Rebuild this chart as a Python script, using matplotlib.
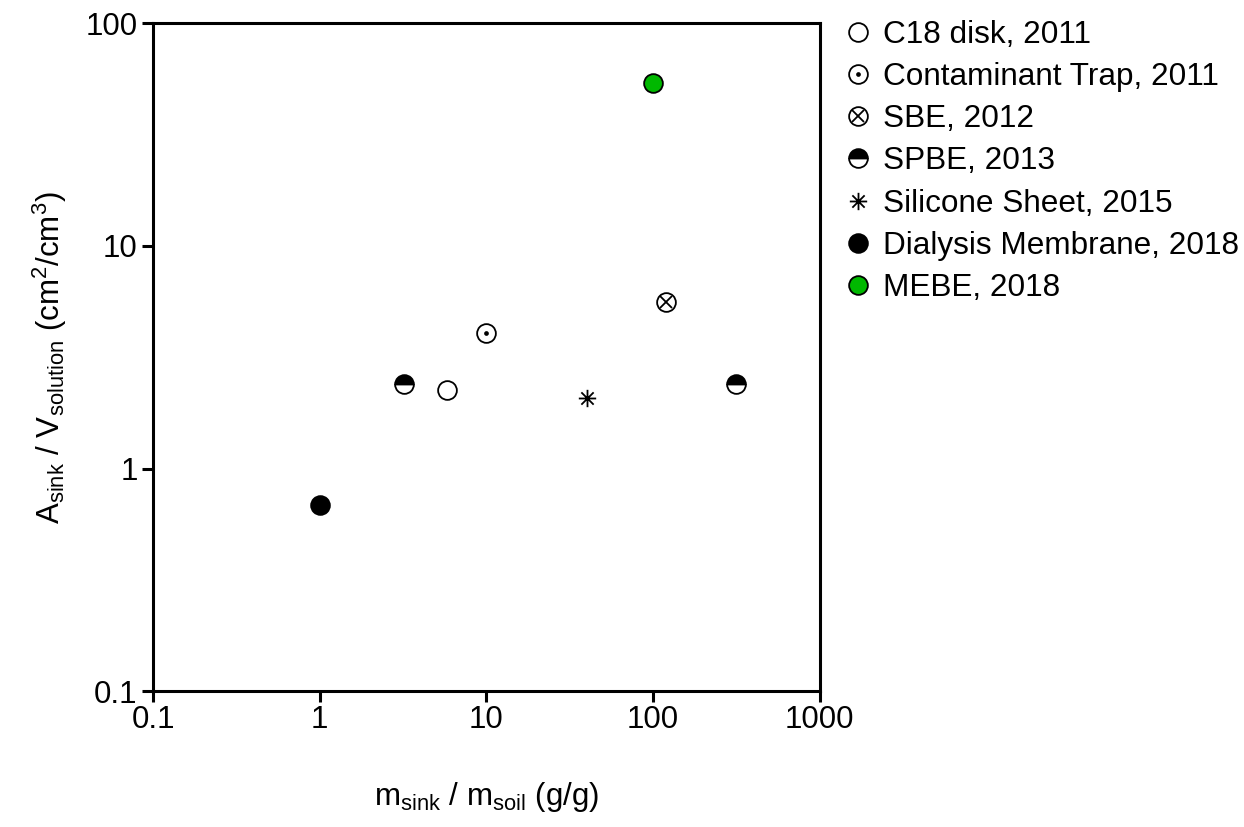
import numpy as np
import matplotlib
matplotlib.use('Agg')
import matplotlib.pyplot as plt
from matplotlib.path import Path
from matplotlib.legend_handler import HandlerTuple

plt.rcParams['font.family'] = ['Liberation Sans', 'DejaVu Sans']
plt.rcParams['mathtext.fontset'] = 'custom'
plt.rcParams['mathtext.rm'] = 'Liberation Sans'
plt.rcParams['mathtext.it'] = 'Liberation Sans:italic'
plt.rcParams['mathtext.default'] = 'regular'

# sink mass / soil mass vs. sink area / solution volume
c18_x, c18_y = [5.8], [2.25]
trap_x, trap_y = [10.0], [4.05]
sbe_x, sbe_y = [120.0], [5.6]
spbe_x, spbe_y = [3.2, 316.0], [2.4, 2.4]
silicone_x, silicone_y = [40.0], [2.08]
dialysis_x, dialysis_y = [1.0], [0.69]
mebe_x, mebe_y = [100.0], [54.0]

labels = ['C18 disk, 2011', 'Contaminant Trap, 2011', 'SBE, 2012', 'SPBE, 2013',
          'Silicone Sheet, 2015', 'Dialysis Membrane, 2018', 'MEBE, 2018']
xticks = [0.1, 1, 10, 100, 1000]
yticks = [0.1, 1, 10, 100]
tick_labels_x = ['0.1', '1', '10', '100', '1000']
tick_labels_y = ['0.1', '1', '10', '100']

# 8-spoke asterisk
r = np.sqrt(0.5)
star_path = Path([(0, -1), (0, 1), (-1, 0), (1, 0), (-r, -r), (r, r), (-r, r), (r, -r)],
                 [Path.MOVETO, Path.LINETO] * 4)

ms = 13.5
mew = 1.3
fs = 22.5

fig = plt.figure(figsize=(12.44, 8.27), dpi=100)
ax = fig.add_axes([0.123, 0.164, 0.536, 0.808])

def circ(x, y, fc='white', **kw):
    return ax.plot(x, y, ls='none', marker='o', ms=ms, mfc=fc, mec='black', mew=mew, **kw)[0]

h_c18 = circ(c18_x, c18_y)

h_trap_o = circ(trap_x, trap_y)
h_trap_d = ax.plot(trap_x, trap_y, ls='none', marker='o', ms=3.4, mfc='black', mec='black', mew=0)[0]

h_sbe_o = circ(sbe_x, sbe_y)
h_sbe_x = ax.plot(sbe_x, sbe_y, ls='none', marker='x', ms=ms / np.sqrt(2) - 0.3, mec='black', mew=mew)[0]

h_spbe = ax.plot(spbe_x, spbe_y, ls='none', marker='o', ms=ms, fillstyle='top', mfc='black',
                 markerfacecoloralt='white', mec='black', mew=mew)[0]

h_sil = ax.plot(silicone_x, silicone_y, ls='none', marker=star_path, ms=ms - 1, mfc='none',
                mec='black', mew=mew)[0]

h_dia = circ(dialysis_x, dialysis_y, fc='black')
h_mebe = circ(mebe_x, mebe_y, fc='#00b800')

ax.set_xscale('log')
ax.set_yscale('log')
ax.set_xlim(0.1, 1000)
ax.set_ylim(0.1, 100)
ax.set_xticks(xticks)
ax.set_xticklabels(tick_labels_x)
ax.set_yticks(yticks)
ax.set_yticklabels(tick_labels_y)
ax.minorticks_off()
ax.tick_params(axis='both', which='major', labelsize=fs, length=8, width=2.2, direction='out')
ax.tick_params(axis='x', pad=2)
ax.tick_params(axis='y', pad=3)

for s in ax.spines.values():
    s.set_linewidth(2.2)

ax.set_xlabel(r'm$_{\mathrm{sink}}$ / m$_{\mathrm{soil}}$ (g/g)', fontsize=fs, labelpad=32)
ax.set_ylabel(r'A$_{\mathrm{sink}}$ / V$_{\mathrm{solution}}$ (cm$^2$/cm$^3$)', fontsize=fs, labelpad=12)

handles = [h_c18, (h_trap_o, h_trap_d), (h_sbe_o, h_sbe_x), h_spbe, h_sil, h_dia, h_mebe]
fig.legend(handles, labels, loc='upper left', bbox_to_anchor=(0.670, 0.991),
           frameon=False, fontsize=22.7, handler_map={tuple: HandlerTuple(ndivide=1)},
           handlelength=0.78, handletextpad=0.38, labelspacing=0.385, borderaxespad=0)

fig.savefig('out.png', dpi=100)
